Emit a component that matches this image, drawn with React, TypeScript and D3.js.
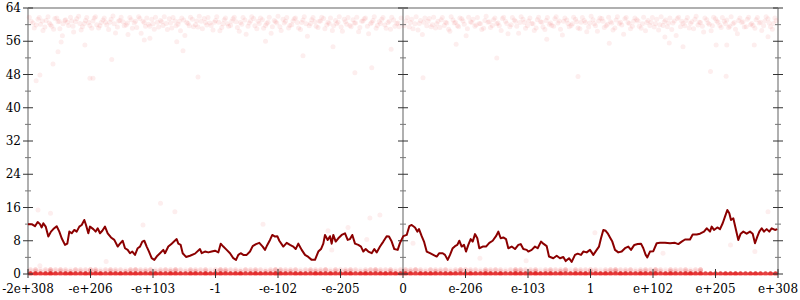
import React from 'react';
import * as d3 from 'd3';

const yTicks = [0, 8, 16, 24, 32, 40, 48, 56, 64];
const yMinorTicks = [4, 12, 20, 28, 36, 44, 52, 60];
const xTickPos = [-6, -5, -4, -3, -2, -1, 0, 1, 2, 3, 4, 5, 6];
const xTickLabels = ['-2e+308', '-e+206', '-e+103', '-1', '-e-102', '-e-205', '0', 'e-206', 'e-103', '1', 'e+102', 'e+205', 'e+308'];
const axisPos = [-6, 0, 6];

// moving-average error line: [position, bits]
const errorLine: [number, number][] = [
  [-6.0, 12.0], [-5.941, 12.0], [-5.888, 11.5], [-5.845, 12.5], [-5.808, 12.0], [-5.781, 11.2], [-5.755, 12.2], [-5.717, 11.4],
  [-5.675, 9.0], [-5.632, 10.2], [-5.595, 10.8], [-5.541, 11.5], [-5.499, 10.2], [-5.461, 8.6], [-5.408, 7.0], [-5.371, 7.3],
  [-5.339, 10.2], [-5.301, 9.8], [-5.259, 10.6], [-5.221, 10.2], [-5.179, 11.4], [-5.141, 11.8], [-5.099, 13.0], [-5.072, 11.8],
  [-5.035, 9.8], [-5.008, 11.4], [-4.955, 10.8], [-4.917, 10.2], [-4.885, 11.0], [-4.848, 9.8], [-4.811, 10.4], [-4.768, 11.4],
  [-4.725, 9.8], [-4.672, 8.8], [-4.619, 8.2], [-4.565, 6.6], [-4.528, 7.3], [-4.485, 8.0], [-4.448, 6.2], [-4.405, 5.8],
  [-4.368, 5.0], [-4.331, 5.4], [-4.288, 4.6], [-4.245, 6.2], [-4.208, 6.6], [-4.171, 7.8], [-4.139, 8.0], [-4.101, 6.6],
  [-4.064, 5.4], [-4.021, 3.8], [-3.979, 3.4], [-3.941, 4.2], [-3.888, 5.0], [-3.835, 5.8], [-3.808, 5.0], [-3.755, 6.6],
  [-3.701, 7.3], [-3.664, 7.8], [-3.621, 8.4], [-3.595, 7.3], [-3.557, 7.0], [-3.525, 5.0], [-3.472, 4.1], [-3.408, 4.4],
  [-3.328, 4.9], [-3.248, 6.0], [-3.221, 5.0], [-3.168, 5.4], [-3.115, 5.2], [-3.061, 5.4], [-3.008, 5.6], [-2.955, 5.2],
  [-2.917, 7.3], [-2.875, 6.6], [-2.821, 5.8], [-2.768, 5.0], [-2.715, 3.8], [-2.672, 3.4], [-2.635, 4.6], [-2.597, 5.0],
  [-2.555, 4.6], [-2.501, 4.6], [-2.448, 5.4], [-2.405, 6.7], [-2.352, 7.2], [-2.299, 7.5], [-2.245, 6.6], [-2.208, 5.8],
  [-2.171, 7.0], [-2.128, 8.2], [-2.091, 9.4], [-2.048, 9.0], [-2.011, 9.1], [-1.979, 8.0], [-1.915, 6.6], [-1.861, 7.5],
  [-1.808, 7.0], [-1.755, 6.6], [-1.717, 6.0], [-1.675, 7.3], [-1.621, 5.8], [-1.568, 4.6], [-1.515, 4.1], [-1.461, 3.4],
  [-1.408, 3.4], [-1.355, 5.4], [-1.312, 6.0], [-1.275, 7.3], [-1.248, 9.4], [-1.205, 8.2], [-1.168, 9.1], [-1.141, 7.3],
  [-1.115, 9.4], [-1.077, 7.8], [-1.035, 8.6], [-0.981, 9.4], [-0.928, 9.8], [-0.885, 8.2], [-0.848, 8.4], [-0.811, 9.4],
  [-0.768, 7.3], [-0.715, 7.0], [-0.672, 6.6], [-0.635, 5.4], [-0.597, 6.0], [-0.555, 5.4], [-0.501, 5.0], [-0.459, 6.0],
  [-0.421, 5.2], [-0.368, 6.6], [-0.315, 7.8], [-0.261, 9.1], [-0.224, 9.0], [-0.181, 7.8], [-0.139, 6.0], [-0.085, 5.8],
  [-0.048, 7.5], [0.005, 9.1], [0.059, 9.4], [0.101, 11.5], [0.139, 11.8], [0.192, 11.2], [0.229, 10.2], [0.256, 10.8],
  [0.299, 9.1], [0.336, 7.8], [0.379, 5.4], [0.432, 5.0], [0.485, 4.6], [0.539, 4.2], [0.581, 5.0], [0.635, 5.0],
  [0.672, 4.6], [0.715, 3.4], [0.752, 4.6], [0.795, 6.2], [0.832, 6.7], [0.869, 7.0], [0.901, 8.0], [0.939, 6.6],
  [0.976, 7.0], [1.008, 5.4], [1.045, 7.0], [1.083, 8.4], [1.115, 7.8], [1.152, 9.6], [1.189, 8.6], [1.221, 6.2],
  [1.275, 6.6], [1.328, 6.6], [1.381, 7.5], [1.435, 8.0], [1.488, 9.1], [1.525, 10.2], [1.563, 8.6], [1.605, 8.8],
  [1.648, 8.4], [1.685, 6.2], [1.739, 6.6], [1.792, 6.0], [1.845, 7.0], [1.883, 7.2], [1.925, 6.0], [1.979, 5.8],
  [2.005, 5.4], [2.059, 5.8], [2.112, 6.6], [2.155, 6.2], [2.208, 7.8], [2.245, 7.3], [2.299, 6.7], [2.336, 4.2],
  [2.405, 3.8], [2.459, 4.4], [2.512, 3.8], [2.565, 4.1], [2.603, 3.1], [2.656, 3.8], [2.699, 2.9], [2.752, 4.6],
  [2.795, 4.9], [2.848, 4.6], [2.885, 5.4], [2.939, 5.2], [2.992, 5.8], [3.045, 4.6], [3.099, 5.8], [3.136, 6.6],
  [3.168, 8.6], [3.205, 10.6], [3.243, 10.4], [3.275, 9.8], [3.312, 8.8], [3.349, 7.8], [3.392, 5.8], [3.445, 5.2],
  [3.499, 5.4], [3.552, 6.2], [3.605, 6.6], [3.648, 5.8], [3.701, 7.0], [3.755, 7.2], [3.808, 7.3], [3.845, 6.2],
  [3.883, 4.6], [3.909, 4.0], [3.952, 5.4], [4.005, 5.5], [4.059, 7.4], [4.112, 7.5], [4.192, 7.5], [4.272, 7.4],
  [4.352, 7.5], [4.405, 7.2], [4.459, 7.8], [4.512, 8.3], [4.592, 8.3], [4.635, 9.5], [4.699, 9.5], [4.752, 9.7],
  [4.816, 10.2], [4.859, 11.0], [4.912, 10.2], [4.939, 11.4], [4.976, 10.6], [5.029, 11.2], [5.072, 10.8], [5.115, 12.2],
  [5.152, 13.8], [5.189, 15.4], [5.221, 14.6], [5.248, 13.0], [5.285, 13.4], [5.328, 10.6], [5.365, 8.2], [5.403, 9.7],
  [5.445, 10.2], [5.499, 9.7], [5.552, 10.2], [5.595, 9.7], [5.632, 7.4], [5.669, 9.0], [5.701, 10.2], [5.739, 11.0],
  [5.776, 10.2], [5.819, 10.8], [5.861, 10.2], [5.899, 11.0], [5.952, 10.6], [5.989, 10.8],
];

// sampled points with high error: [position, bits]
const topDotsA: [number, number][] = [
  [-5.95, 60.8], [-5.90, 59.2], [-5.84, 61.3], [-5.80, 60.1], [-5.76, 58.6], [-5.71, 61.0], [-5.66, 60.4], [-5.62, 59.6], [-5.57, 61.5], [-5.52, 60.7],
  [-5.49, 59.0], [-5.44, 60.2], [-5.40, 61.2], [-5.35, 59.8], [-5.30, 60.9], [-5.27, 58.2], [-5.22, 61.4], [-5.17, 60.3], [-5.13, 59.5], [-5.08, 61.0],
  [-5.03, 60.5], [-4.98, 59.1], [-4.94, 61.6], [-4.90, 60.0], [-4.85, 59.7], [-4.80, 61.1], [-4.76, 60.6], [-4.71, 58.8], [-4.67, 61.3], [-4.62, 60.2],
  [-4.57, 59.4], [-4.53, 61.0], [-4.48, 60.7], [-4.43, 59.9], [-4.40, 57.6], [-4.35, 61.2], [-4.30, 60.4], [-4.26, 59.3], [-4.21, 61.5], [-4.16, 60.8],
  [-4.12, 59.6], [-4.07, 60.1], [-4.02, 61.3], [-3.98, 58.9], [-3.93, 60.6], [-3.88, 61.0], [-3.84, 59.8], [-3.79, 60.3], [-3.74, 61.4], [-3.70, 59.2],
  [-3.65, 60.9], [-3.60, 60.1], [-3.56, 58.5], [-3.51, 61.1], [-3.46, 60.5], [-3.42, 59.7], [-3.37, 61.3], [-3.32, 60.0], [-3.28, 59.4], [-3.23, 60.8],
  [-3.18, 61.5], [-3.14, 59.9], [-3.09, 60.4], [-3.04, 58.7], [-3.00, 61.0], [-2.95, 60.6], [-2.90, 59.3], [-2.86, 61.2], [-2.81, 60.2], [-2.76, 59.8],
  [-2.72, 61.4], [-2.67, 60.7], [-2.62, 58.4], [-2.58, 60.1], [-2.53, 61.1], [-2.48, 59.6], [-2.44, 60.9], [-2.39, 61.5], [-2.34, 59.0], [-2.30, 60.3],
  [-2.25, 61.2], [-2.20, 59.8], [-2.16, 60.6], [-2.11, 57.9], [-2.06, 61.0], [-2.02, 60.4], [-1.97, 59.5], [-1.92, 61.3], [-1.88, 60.8], [-1.83, 59.2],
  [-1.78, 60.0], [-1.74, 61.4], [-1.69, 60.5], [-1.64, 58.8], [-1.60, 61.1], [-1.55, 60.2], [-1.50, 59.7], [-1.46, 61.2], [-1.41, 60.7], [-1.36, 59.3],
  [-1.32, 60.9], [-1.27, 61.5], [-1.22, 59.9], [-1.18, 60.3], [-1.13, 58.6], [-1.08, 61.0], [-1.04, 60.6], [-0.99, 59.4], [-0.94, 61.3], [-0.90, 60.1],
  [-0.85, 59.8], [-0.80, 61.2], [-0.76, 60.4], [-0.71, 58.3], [-0.66, 60.8], [-0.62, 61.4], [-0.57, 59.6], [-0.52, 60.2], [-0.48, 61.0], [-0.43, 59.1],
  [-0.38, 60.7], [-0.34, 61.3], [-0.29, 59.9], [-0.24, 60.5], [-0.20, 58.9], [-0.15, 61.1], [-0.10, 60.3], [-0.06, 59.5],
  [0.05, 60.9], [0.10, 59.4], [0.14, 61.3], [0.19, 60.2], [0.24, 58.7], [0.28, 61.0], [0.33, 60.6], [0.38, 59.7], [0.42, 61.5], [0.47, 60.0],
  [0.52, 59.2], [0.56, 60.8], [0.61, 61.2], [0.66, 59.8], [0.70, 60.4], [0.75, 58.4], [0.80, 61.1], [0.84, 60.5], [0.89, 59.5], [0.94, 61.4],
  [0.98, 60.1], [1.03, 59.0], [1.08, 60.7], [1.12, 61.3], [1.17, 59.9], [1.22, 60.3], [1.26, 58.8], [1.31, 61.0], [1.36, 60.6], [1.40, 59.3],
  [1.45, 61.2], [1.50, 60.2], [1.54, 59.7], [1.59, 61.5], [1.64, 60.8], [1.68, 57.8], [1.73, 60.0], [1.78, 61.1], [1.82, 59.6], [1.87, 60.5],
  [1.92, 61.3], [1.96, 59.1], [2.01, 60.9], [2.06, 60.3], [2.10, 58.6], [2.15, 61.2], [2.20, 60.7], [2.24, 59.4], [2.29, 61.0], [2.34, 60.1],
  [2.38, 59.8], [2.43, 61.4], [2.48, 60.4], [2.52, 58.9], [2.57, 60.8], [2.62, 61.1], [2.66, 59.5], [2.71, 60.2], [2.76, 61.3], [2.80, 59.2],
  [2.85, 60.6], [2.90, 61.0], [2.94, 58.3], [2.99, 60.4], [3.04, 61.2], [3.08, 59.7], [3.13, 60.9], [3.18, 61.5], [3.22, 59.3], [3.27, 60.1],
  [3.32, 60.7], [3.36, 58.7], [3.41, 61.1], [3.46, 60.3], [3.50, 59.9], [3.55, 61.4], [3.60, 60.5], [3.64, 59.0], [3.69, 60.8], [3.74, 61.2],
  [3.78, 59.6], [3.83, 60.2], [3.88, 58.5], [3.92, 61.0], [3.97, 60.6], [4.02, 59.4], [4.06, 61.3], [4.11, 60.0], [4.16, 59.8], [4.20, 61.1],
  [4.25, 60.4], [4.30, 58.8], [4.34, 60.9], [4.39, 61.5], [4.44, 59.5], [4.48, 60.3], [4.53, 61.0], [4.58, 59.2], [4.62, 60.7], [4.67, 61.3],
  [4.72, 59.9], [4.76, 60.5], [4.81, 58.2], [4.86, 61.2], [4.90, 60.1], [4.95, 59.7], [5.00, 61.4], [5.04, 60.6], [5.09, 59.3], [5.14, 60.8],
  [5.18, 61.1], [5.23, 59.6], [5.28, 60.2], [5.32, 58.9], [5.37, 61.0], [5.42, 60.5], [5.46, 59.4], [5.51, 61.3], [5.56, 60.0], [5.60, 59.8],
  [5.65, 61.2], [5.70, 60.4], [5.74, 58.6], [5.79, 60.9], [5.84, 61.4], [5.88, 59.5], [5.93, 60.3], [5.97, 61.0],
];

const topDotsB: [number, number][] = [
  [-5.98, 61.8], [-5.92, 60.4], [-5.87, 59.9], [-5.82, 61.7], [-5.77, 60.9], [-5.73, 59.4], [-5.68, 61.9], [-5.64, 60.0], [-5.59, 58.9], [-5.54, 61.6],
  [-5.50, 60.8], [-5.45, 57.3], [-5.41, 61.0], [-5.37, 60.6], [-5.32, 61.8], [-5.28, 59.6], [-5.24, 60.7], [-5.19, 62.0], [-5.15, 58.7], [-5.10, 60.3],
  [-5.06, 61.7], [-5.01, 59.8], [-4.96, 60.9], [-4.92, 61.9], [-4.87, 59.2], [-4.83, 60.5], [-4.78, 61.6], [-4.74, 59.9], [-4.69, 60.6], [-4.64, 62.1],
  [-4.60, 58.0], [-4.55, 60.9], [-4.51, 61.8], [-4.46, 59.7], [-4.41, 60.4], [-4.37, 61.7], [-4.33, 59.1], [-4.28, 60.8], [-4.23, 61.9], [-4.19, 57.9],
  [-4.14, 60.5], [-4.10, 61.6], [-4.05, 59.6], [-4.00, 60.2], [-3.96, 61.8], [-3.91, 59.4], [-3.86, 60.7], [-3.82, 61.9], [-3.77, 58.8], [-3.72, 60.4],
  [-3.68, 61.7], [-3.63, 59.7], [-3.58, 60.8], [-3.54, 61.6], [-3.49, 57.4], [-3.44, 60.3], [-3.40, 61.8], [-3.35, 59.5], [-3.30, 60.9], [-3.26, 62.0],
  [-3.21, 59.0], [-3.16, 60.5], [-3.12, 61.7], [-3.07, 59.8], [-3.02, 60.6], [-2.98, 61.9], [-2.93, 58.5], [-2.88, 60.2], [-2.84, 61.6], [-2.79, 59.6],
  [-2.74, 60.8], [-2.70, 61.8], [-2.65, 59.3], [-2.60, 60.5], [-2.56, 61.7], [-2.51, 57.7], [-2.46, 60.4], [-2.42, 61.9], [-2.37, 59.7], [-2.32, 60.8],
  [-2.28, 61.6], [-2.23, 59.1], [-2.18, 60.3], [-2.14, 61.8], [-2.09, 59.5], [-2.04, 60.7], [-2.00, 62.0], [-1.95, 58.6], [-1.90, 60.4], [-1.86, 61.7],
  [-1.81, 59.8], [-1.76, 60.9], [-1.72, 61.6], [-1.67, 59.2], [-1.62, 60.5], [-1.58, 61.9], [-1.53, 57.2], [-1.48, 60.3], [-1.44, 61.7], [-1.39, 59.6],
  [-1.34, 60.8], [-1.30, 61.8], [-1.25, 59.0], [-1.20, 60.6], [-1.16, 61.6], [-1.11, 59.7], [-1.06, 60.2], [-1.02, 61.9], [-0.97, 58.4], [-0.92, 60.7],
  [-0.88, 61.7], [-0.83, 59.5], [-0.78, 60.4], [-0.74, 61.8], [-0.69, 59.3], [-0.64, 60.9], [-0.60, 61.6], [-0.55, 57.8], [-0.50, 60.5], [-0.46, 61.9],
  [-0.41, 59.8], [-0.36, 60.3], [-0.32, 61.7], [-0.27, 59.1], [-0.22, 60.8], [-0.18, 61.8], [-0.13, 59.6], [-0.08, 60.4], [-0.03, 61.6],
  [0.02, 59.8], [0.07, 61.7], [0.12, 60.5], [0.16, 59.0], [0.21, 61.9], [0.26, 60.3], [0.31, 57.6], [0.35, 61.6], [0.40, 60.8], [0.45, 59.5],
  [0.49, 61.8], [0.54, 60.2], [0.59, 59.3], [0.63, 61.7], [0.68, 60.6], [0.73, 58.9], [0.77, 61.9], [0.82, 60.4], [0.87, 59.7], [0.91, 61.6],
  [0.96, 60.9], [1.01, 57.3], [1.05, 61.8], [1.10, 60.5], [1.15, 59.6], [1.19, 61.7], [1.24, 60.2], [1.29, 59.1], [1.33, 62.0], [1.38, 60.7],
  [1.43, 59.8], [1.47, 61.6], [1.52, 60.4], [1.57, 58.6], [1.61, 61.8], [1.66, 60.3], [1.71, 59.5], [1.75, 61.7], [1.80, 60.8], [1.85, 57.9],
  [1.89, 61.9], [1.94, 60.5], [1.99, 59.7], [2.03, 61.6], [2.08, 60.2], [2.13, 59.2], [2.17, 61.8], [2.22, 60.6], [2.27, 58.8], [2.31, 61.7],
  [2.36, 60.4], [2.41, 59.6], [2.45, 61.9], [2.50, 60.9], [2.55, 57.5], [2.59, 61.6], [2.64, 60.3], [2.69, 59.8], [2.73, 61.8], [2.78, 60.7],
  [2.83, 59.0], [2.87, 61.7], [2.92, 60.5], [2.97, 59.4], [3.01, 62.0], [3.06, 60.2], [3.11, 58.4], [3.15, 61.6], [3.20, 60.8], [3.25, 59.7],
  [3.29, 61.8], [3.34, 60.4], [3.39, 59.2], [3.43, 61.9], [3.48, 60.6], [3.53, 57.7], [3.57, 61.7], [3.62, 60.3], [3.67, 59.6], [3.71, 61.6],
  [3.76, 60.9], [3.81, 59.1], [3.85, 61.8], [3.90, 60.5], [3.95, 59.8], [3.99, 61.7], [4.04, 60.2], [4.09, 58.7], [4.13, 61.9], [4.18, 60.7],
  [4.23, 59.5], [4.27, 61.6], [4.32, 60.4], [4.37, 57.4], [4.41, 61.8], [4.46, 60.8], [4.51, 59.7], [4.55, 61.7], [4.60, 60.3], [4.65, 59.0],
  [4.69, 62.0], [4.74, 60.6], [4.79, 59.6], [4.83, 61.6], [4.88, 60.4], [4.93, 58.5], [4.97, 61.8], [5.02, 60.9], [5.07, 59.8], [5.11, 61.7],
  [5.16, 60.2], [5.21, 59.3], [5.25, 61.9], [5.30, 60.5], [5.35, 57.8], [5.39, 61.6], [5.44, 60.7], [5.49, 59.5], [5.53, 61.8], [5.58, 60.3],
  [5.63, 59.1], [5.67, 61.7], [5.72, 60.6], [5.77, 59.7], [5.81, 61.9], [5.86, 60.4], [5.91, 58.9], [5.95, 61.6],
];

// scattered points at intermediate error
const scatterDots: [number, number][] = [
  [-5.47, 55.8], [-5.52, 53.5], [-5.60, 50.5], [-4.66, 51.6], [-5.81, 47.9], [-5.87, 46.5], [-5.01, 47.1], [-4.96, 47.1],
  [-3.28, 47.4], [-3.52, 53.7], [-3.62, 55.9], [-5.09, 55.1], [-4.14, 56.3], [-4.05, 56.7], [4.92, 48.7], [5.17, 47.6],
  [-0.77, 48.4], [-0.50, 49.6], [0.32, 47.2], [-0.19, 54.1], [-1.12, 54.7], [0.85, 55.3], [4.48, 54.7], [5.01, 55.1],
  [5.18, 55.1], [5.62, 55.1], [5.84, 57.1], [4.26, 55.6], [4.19, 57.0], [1.5, 52.0], [2.8, 47.5], [3.3, 55.5],
  [-2.2, 56.0], [2.3, 56.5], [-1.6, 52.5], [-5.84, 15.4], [-5.64, 14.6], [-4.16, 11.8], [-4.75, 3.0], [-3.88, 17.0],
  [-3.65, 15.0], [-5.81, 2.0], [-2.24, 12.0], [-0.53, 13.5], [-0.37, 14.2], [-1.14, 5.8], [0.16, 7.4], [3.07, 9.9],
  [1.23, 3.8], [1.97, 3.2], [5.84, 15.0], [5.24, 7.0], [4.16, 5.0], [5.63, 5.4], [-1.20, 10.4], [-0.88, 11.2], [-0.58, 8.3],
];

// points per bin (150 equal bins across the axis) at low error levels
const oneBitCounts = [
  2, 3, 1, 2, 4, 2, 3, 2, 1, 3, 2, 2, 4, 3, 1, 2, 3, 2, 2, 1, 3, 4, 2, 2, 3, 1, 2, 3, 2, 4, 2, 1, 3, 2, 2, 3, 1, 2, 4, 3,
  2, 2, 1, 3, 2, 3, 2, 1, 2, 4, 3, 2, 2, 3, 1, 2, 3, 2, 2, 4, 1, 3, 2, 2, 3, 2, 1, 2, 3, 4, 2, 2, 3, 1, 2,
  3, 2, 4, 2, 1, 3, 2, 2, 3, 1, 2, 4, 3, 2, 2, 1, 3, 2, 3, 2, 1, 2, 4, 3, 2, 2, 3, 1, 2, 3, 2, 2, 4, 1, 3,
  2, 2, 3, 2, 1, 2, 3, 4, 2, 2, 3, 1, 2, 3, 2, 4, 2, 1, 3, 2, 2, 3, 1, 2, 4,
];
const halfBitCounts = [
  1, 2, 2, 1, 3, 1, 2, 2, 3, 1, 2, 1, 2, 3, 2, 1, 2, 2, 1, 3, 2, 1, 2, 3, 1, 2, 2, 1, 3, 2, 1, 2, 2, 3, 1, 2, 1, 2, 2, 3,
  1, 2, 3, 1, 2, 2, 1, 3, 2, 1, 2, 2, 3, 1, 2, 1, 2, 3, 2, 1, 2, 2, 1, 3, 2, 1, 2, 3, 1, 2, 2, 1, 3, 2, 1,
  2, 3, 1, 2, 2, 1, 3, 2, 1, 2, 2, 3, 1, 2, 1, 2, 3, 2, 1, 2, 2, 1, 3, 2, 1, 2, 3, 1, 2, 2, 1, 3, 2, 1, 2,
  2, 1, 3, 2, 1, 2, 2, 3, 1, 2, 1, 2, 3, 2, 1, 2, 2, 1, 3, 2, 1, 2, 3, 1, 2,
];
const zeroBitCounts = [
  22, 24, 21, 23, 25, 22, 20, 23, 24, 22, 21, 25, 23, 22, 24, 20, 23, 22, 25, 21, 23, 24, 22, 20, 23, 25, 22, 21, 24, 23,
  22, 20, 24, 23, 21, 25, 22, 23, 24, 21, 22, 23, 25, 20, 22, 24, 23, 21, 22, 25, 23, 22, 20, 24, 23, 22, 21, 25, 23, 22,
  24, 21, 23, 22, 25, 20, 23, 24, 22, 21, 23, 25, 22, 24, 21, 23, 22, 20, 24, 23, 25, 22, 21, 23, 24, 22, 20, 23, 25, 22,
  21, 24, 23, 22, 25, 20, 22, 24, 23, 21, 22, 25, 23, 22, 24, 21, 23, 20, 22, 24, 23, 25, 21, 22, 23, 24, 22, 20, 25, 23,
  22, 21, 24, 23, 22, 25, 20, 23, 24, 22, 21, 23, 25, 22, 24, 20, 23, 22, 21, 24, 23, 25, 22, 21, 23, 24, 22, 20, 23, 22,
];

const W = 800;
const H = 300;
const left = 28;
const right = 778;
const top = 8;
const bottom = 274;

export default function App() {
  const x = d3.scaleLinear().domain([-6, 6]).range([left, right]);
  const y = d3.scaleLinear().domain([0, 64]).range([bottom, top]);
  const nBins = zeroBitCounts.length;
  const binCenter = (i: number) => -6 + (12 * (i + 0.5)) / nBins;

  const binDots: [number, number][] = [];
  const addBins = (counts: number[], level: number) =>
    counts.forEach((c, i) => { for (let k = 0; k < c; k++) binDots.push([binCenter(i), level]); });
  addBins(oneBitCounts, 1);
  addBins(halfBitCounts, 0.6);
  addBins(zeroBitCounts, 0);

  const allDots = [...topDotsA, ...topDotsB, ...scatterDots, ...binDots];
  const line = d3.line<[number, number]>().x(d => x(d[0])).y(d => y(d[1]));

  const font = '"DejaVu Serif", serif';

  return (
    <svg width={W} height={H} style={{ position: 'absolute', left: 0, top: 0, background: '#fff' }}>
      <defs>
        <clipPath id="plotClip">
          <rect x={0} y={0} width={W} height={y(0) + 1.3} />
        </clipPath>
      </defs>
      {/* frame */}
      <line x1={x(-6)} x2={x(6)} y1={y(64)} y2={y(64)} stroke="#b0b0b0" strokeWidth={2} />
      {axisPos.map(p => (
        <line key={'ax' + p} x1={x(p)} x2={x(p)} y1={y(64)} y2={y(0)} stroke="#b0b0b0" strokeWidth={2} />
      ))}
      {/* dots */}
      <g clipPath="url(#plotClip)">
        {allDots.map((d, i) => (
          <circle key={i} cx={x(d[0])} cy={y(d[1])} r={2.5} fill="rgb(220,20,20)" fillOpacity={0.07} />
        ))}
      </g>
      {/* y ticks on each vertical axis */}
      {axisPos.map(p => (
        <g key={'t' + p}>
          {yTicks.map(t => (
            <line key={t} x1={x(p) - 5} x2={x(p) + 5} y1={y(t)} y2={y(t)} stroke="#333" strokeWidth={1} />
          ))}
          {yMinorTicks.map(t => (
            <line key={t} x1={x(p) - 3} x2={x(p) + 3} y1={y(t)} y2={y(t)} stroke="#777" strokeWidth={1} />
          ))}
        </g>
      ))}
      {/* x ticks */}
      {xTickPos.map(p => (
        <line key={'xt' + p} x1={x(p)} x2={x(p)} y1={y(0) - 5} y2={y(0) + 4} stroke="#333" strokeWidth={1} />
      ))}
      {/* error line */}
      <path d={line(errorLine) || ''} fill="none" stroke="#8b0000" strokeWidth={2} strokeLinejoin="round" />
      {/* labels */}
      {yTicks.map(t => (
        <text key={'yl' + t} x={left - 7} y={y(t)} dy="0.35em" textAnchor="end" fontFamily={font} fontSize={12} fill="#000">
          {t}
        </text>
      ))}
      {xTickPos.map((p, i) => (
        <text key={'xl' + p} x={x(p)} y={293} textAnchor="middle" fontFamily={font} fontSize={12} fill="#000">
          {xTickLabels[i]}
        </text>
      ))}
    </svg>
  );
}
